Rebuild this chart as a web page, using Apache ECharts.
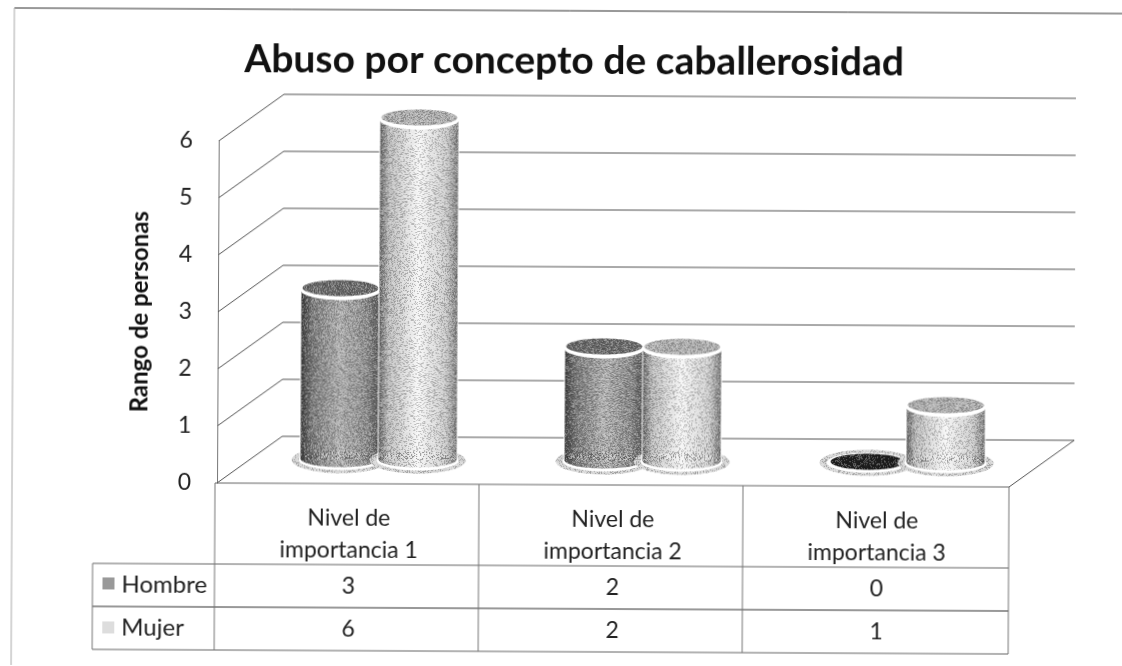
<!DOCTYPE html>
<html>
<head>
<meta charset="utf-8">
<style>
  html, body { margin: 0; padding: 0; background: #fff; overflow: hidden; }
  /* the scan is tilted a little, lines drop to the right */
  #main { width: 1122px; height: 666px; transform: rotate(0.29deg); transform-origin: 217px 483px; }
</style>
<script src="https://cdn.jsdelivr.net/npm/echarts@6/dist/echarts.min.js"></script>
</head>
<body>
<div id="main"></div>
<script>
const categories = ['Nivel de\nimportancia 1', 'Nivel de\nimportancia 2', 'Nivel de\nimportancia 3']
const hombre = [3, 2, 0]
const mujer = [6, 2, 1]
const yTicks = [0, 1, 2, 3, 4, 5, 6]

const FONT = 'Lato, "Noto Sans", sans-serif'
const DEPTH_X = 65
const DEPTH_Y = -47
const CYL_SHIFT = -3
const CYL_W = 78
const CYL_RY = 9
const ROW_Y = [564, 607, 650]
const TABLE_LEFT = 93
const GRID_LEFT = 217
const GRID_RIGHT = 1009
const FLOOR_Y = 483

// speckle like a photocopy, fixed hash so it does not change between runs
function makeGrain(dark, light) {
  const c = document.createElement('canvas')
  c.width = 96
  c.height = 96
  const ctx = c.getContext('2d')
  for (let y = 0; y < 96; y++) {
    for (let x = 0; x < 96; x++) {
      const h = Math.abs(Math.sin(x * 12.9898 + y * 78.233) * 43758.5453) % 1
      if (h < dark) {
        ctx.fillStyle = 'rgba(0,0,0,0.22)'
        ctx.fillRect(x, y, 1, 1)
      } else if (h > 1 - light) {
        ctx.fillStyle = 'rgba(255,255,255,0.3)'
        ctx.fillRect(x, y, 1, 1)
      }
    }
  }
  return c
}
const grain = { image: makeGrain(0.25, 0.25), repeat: 'repeat' }

function bodyGradient(stops) {
  return {
    type: 'linear', x: 0, y: 0, x2: 1, y2: 0,
    colorStops: stops.map((s) => ({ offset: s[0], color: s[1] })),
  }
}
const hombreBody = bodyGradient([[0, '#404040'], [0.14, '#777777'], [0.5, '#b0b0b0'], [0.85, '#8a8a8a'], [1, '#5a5a5a']])
const mujerBody = bodyGradient([[0, '#6a6a6a'], [0.12, '#bcbcbc'], [0.5, '#f6f6f6'], [0.85, '#cccccc'], [1, '#7c7c7c']])

function cylinder(side, body, cap) {
  return function (params, api) {
    const cat = api.value(0)
    const val = api.value(1)
    const top = api.coord([cat, val])
    const base = api.coord([cat, 0])
    const cx = top[0] + DEPTH_X / 2 + CYL_SHIFT + side * CYL_W / 2
    const topY = top[1] + DEPTH_Y / 2
    const baseY = base[1] + DEPTH_Y / 2 - 1
    const rx = CYL_W / 2
    const kids = [
      // floor shadow
      { type: 'ellipse', shape: { cx, cy: baseY + 1, rx: rx + 9, ry: CYL_RY + 4 }, style: { fill: '#d2d2d2' } },
      { type: 'ellipse', shape: { cx, cy: baseY + 1, rx: rx + 9, ry: CYL_RY + 4 }, style: { fill: grain } },
      { type: 'ellipse', shape: { cx, cy: baseY + 1, rx: rx + 2, ry: CYL_RY + 1 }, style: { fill: '#ffffff' } },
    ]
    if (val > 0) {
      kids.push(
        { type: 'rect', shape: { x: cx - rx - 1, y: topY, width: CYL_W + 2, height: baseY - topY }, style: { fill: '#ffffff' } },
        { type: 'rect', shape: { x: cx - rx, y: topY, width: CYL_W, height: baseY - topY }, style: { fill: body } },
        { type: 'ellipse', shape: { cx, cy: baseY, rx, ry: CYL_RY - 1 }, style: { fill: body } },
        { type: 'rect', shape: { x: cx - rx, y: topY, width: CYL_W, height: baseY - topY }, style: { fill: grain } },
        { type: 'ellipse', shape: { cx, cy: baseY, rx, ry: CYL_RY - 1 }, style: { fill: grain } },
        { type: 'ellipse', shape: { cx, cy: topY + 1, rx: rx + 1, ry: CYL_RY + 1 }, style: { fill: '#ffffff' } },
        { type: 'ellipse', shape: { cx, cy: topY - 1, rx: rx - 1, ry: CYL_RY - 1 }, style: { fill: cap } },
        { type: 'ellipse', shape: { cx, cy: topY - 1, rx: rx - 1, ry: CYL_RY - 1 }, style: { fill: grain } },
      )
    } else {
      kids.push(
        { type: 'ellipse', shape: { cx, cy: baseY, rx: rx - 2, ry: CYL_RY - 1 }, style: { fill: '#1e1e1e' } },
        { type: 'ellipse', shape: { cx, cy: baseY, rx: rx - 2, ry: CYL_RY - 1 }, style: { fill: grain } },
      )
    }
    return { type: 'group', children: kids }
  }
}

function walls(params, api) {
  const v = api.value(1)
  const p = api.coord([0, v])
  const sys = params.coordSys
  const x0 = sys.x
  const x1 = x0 + DEPTH_X
  const y1 = p[1] + DEPTH_Y
  const x2 = sys.x + sys.width + DEPTH_X
  return {
    type: 'polyline',
    shape: { points: [[x0, p[1]], [x1, y1], [x2, y1]] },
    style: { stroke: '#555', lineWidth: 1, fill: 'none' },
  }
}

function tableRow(values, rowIdx) {
  return function (params, api) {
    const x = api.coord([api.value(0), 0])[0]
    return {
      type: 'text',
      style: {
        x, y: (ROW_Y[rowIdx] + ROW_Y[rowIdx + 1]) / 2,
        text: String(values[params.dataIndex]),
        fill: '#222', font: '23px ' + FONT, align: 'center', verticalAlign: 'middle',
      },
    }
  }
}

function hline(x1, x2, y, color) {
  return { type: 'line', shape: { x1, y1: y, x2, y2: y }, style: { stroke: color || '#666', lineWidth: 1 }, z: 5 }
}
function vline(x, y1, y2, color) {
  return { type: 'line', shape: { x1: x, y1, x2: x, y2 }, style: { stroke: color || '#777', lineWidth: 1 }, z: 5 }
}
const bandW = (GRID_RIGHT - GRID_LEFT) / categories.length

const chart = echarts.init(document.getElementById('main'))
chart.setOption({
  animation: false,
  backgroundColor: '#ffffff',
  title: {
    text: 'Abuso por concepto de caballerosidad',
    left: 567,
    top: 35,
    textAlign: 'center',
    textStyle: { fontFamily: FONT, fontSize: 39, fontWeight: 'bold', color: '#111' },
  },
  grid: { left: GRID_LEFT, right: 1122 - GRID_RIGHT, top: 141, bottom: 666 - FLOOR_Y },
  xAxis: {
    type: 'category',
    data: categories,
    axisLine: { show: false },
    axisTick: { show: false },
    axisLabel: { margin: 19, lineHeight: 32, fontFamily: FONT, fontSize: 23, color: '#222', interval: 0 },
  },
  yAxis: {
    type: 'value',
    min: 0,
    max: 6,
    interval: 1,
    splitLine: { show: false },
    axisTick: { show: false },
    axisLine: { show: true, lineStyle: { color: '#777', width: 1 } },
    axisLabel: { margin: 26, fontFamily: FONT, fontSize: 23, color: '#222' },
    name: 'Rango de personas',
    nameLocation: 'middle',
    nameGap: 66,
    nameRotate: 90,
    nameTextStyle: { fontFamily: FONT, fontSize: 24, fontWeight: 'bold', color: '#111' },
  },
  graphic: [
    hline(12, 1135, 9, '#333'),
    vline(12, 9, 680, '#aaa'),
    hline(GRID_LEFT - 2, GRID_RIGHT, FLOOR_Y),
    hline(TABLE_LEFT, GRID_RIGHT, ROW_Y[0]),
    hline(TABLE_LEFT, GRID_RIGHT, ROW_Y[1], '#333'),
    hline(TABLE_LEFT, GRID_RIGHT, ROW_Y[2]),
    vline(TABLE_LEFT, ROW_Y[0], ROW_Y[2]),
    vline(GRID_LEFT - 2, FLOOR_Y, ROW_Y[2]),
    vline(GRID_LEFT - 2 + bandW, FLOOR_Y, ROW_Y[2]),
    vline(GRID_LEFT - 2 + bandW * 2, FLOOR_Y, ROW_Y[2]),
    vline(GRID_RIGHT, FLOOR_Y, ROW_Y[2]),
    {
      type: 'line',
      shape: { x1: GRID_RIGHT, y1: FLOOR_Y, x2: GRID_RIGHT + DEPTH_X, y2: FLOOR_Y + DEPTH_Y },
      style: { stroke: '#555', lineWidth: 1 },
      z: 5,
    },
    { type: 'rect', shape: { x: 103, y: 578, width: 12, height: 12 }, style: { fill: '#999999' }, z: 5 },
    { type: 'rect', shape: { x: 103, y: 622, width: 12, height: 12 }, style: { fill: '#dddddd' }, z: 5 },
    { type: 'text', style: { x: 122, y: 585, text: 'Hombre', fill: '#222', font: '24px ' + FONT, verticalAlign: 'middle' }, z: 5 },
    { type: 'text', style: { x: 122, y: 628, text: 'Mujer', fill: '#222', font: '24px ' + FONT, verticalAlign: 'middle' }, z: 5 },
  ],
  series: [
    { type: 'custom', name: 'grid', z: 1, clip: false, renderItem: walls, data: yTicks.map((v) => [0, v]), encode: { x: 0, y: 1 } },
    { type: 'custom', name: 'Hombre', z: 2, clip: false, renderItem: cylinder(-1, hombreBody, '#6a6a6a'), data: hombre.map((v, i) => [i, v]), encode: { x: 0, y: 1 } },
    { type: 'custom', name: 'Mujer', z: 3, clip: false, renderItem: cylinder(1, mujerBody, '#b0b0b0'), data: mujer.map((v, i) => [i, v]), encode: { x: 0, y: 1 } },
    { type: 'custom', name: 'tablaHombre', z: 6, clip: false, renderItem: tableRow(hombre, 0), data: hombre.map((v, i) => [i, v]), encode: { x: 0, y: 1 } },
    { type: 'custom', name: 'tablaMujer', z: 6, clip: false, renderItem: tableRow(mujer, 1), data: mujer.map((v, i) => [i, v]), encode: { x: 0, y: 1 } },
  ],
})
</script>
</body>
</html>
